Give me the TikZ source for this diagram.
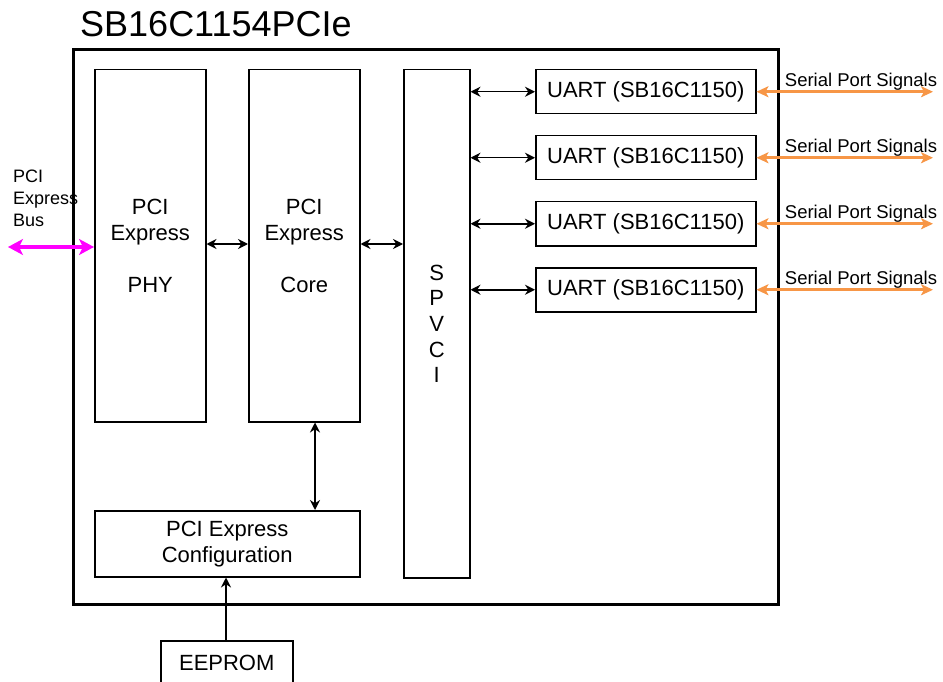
\documentclass[tikz,border=0pt]{standalone}
\usepackage{fontspec}
\setmainfont{Liberation Sans}
\usetikzlibrary{arrows.meta}
\begin{document}
\begin{tikzpicture}[x=1pt,y=-1pt,
  blk/.style={draw,line width=1.5pt,anchor=north west,inner sep=0pt,align=center,font=\fontsize{22}{26}\selectfont},
  conn/.style={line width=1.5pt,{Stealth[length=10pt,width=10pt]}-{Stealth[length=10pt,width=10pt]}},
  pinkarr/.style={line width=4pt,draw={rgb,255:red,255;green,0;blue,255},{Stealth[length=15pt,width=16pt,inset=4pt]}-{Stealth[length=15pt,width=16pt,inset=4pt]}},
  orarr/.style={line width=3pt,draw={rgb,255:red,247;green,150;blue,70},{Stealth[length=12pt,width=11pt,inset=3pt]}-{Stealth[length=12pt,width=11pt,inset=3pt]}},
  lbl/.style={inner sep=0pt,font=\fontsize{18.5}{22.5}\selectfont}]
\useasboundingbox (0,0) rectangle (943,682);
\fill[white] (0,0) rectangle (943,682);
% title
\node[inner sep=0pt,anchor=base west,font=\fontsize{36}{40}\selectfont] (title) at (80,37) {SB16C1154PCIe};
% outer
\node[draw,line width=3pt,anchor=north west,minimum width=705pt,minimum height=555pt,inner sep=0pt] (chip) at (72,48) {};
% blocks
\node[blk,minimum width=111pt,minimum height=352pt] (phy) at (94,69) {PCI\\Express\\[26pt]PHY};
\node[blk,minimum width=111pt,minimum height=352pt] (core) at (248,69) {PCI\\Express\\[26pt]Core};
\node[blk,minimum width=66pt,minimum height=508pt,font=\fontsize{22}{25.7}\selectfont] (spvci) at (403,69) {S\\P\\V\\C\\I};
\node[blk,minimum width=220pt,minimum height=44pt] (u1) at (535,69) {UART (SB16C1150)};
\node[blk,minimum width=220pt,minimum height=44pt] (u2) at (535,135) {UART (SB16C1150)};
\node[blk,minimum width=220pt,minimum height=44pt] (u3) at (535,201) {UART (SB16C1150)};
\node[blk,minimum width=220pt,minimum height=44pt] (u4) at (535,267) {UART (SB16C1150)};
\node[blk,minimum width=265pt,minimum height=66pt] (cfg) at (94,510) {PCI Express\\Configuration};
\node[blk,minimum width=132pt,minimum height=44pt] (ee) at (160,640) {EEPROM};
% internal connectors
\draw[conn] (phy.east |- 0,244) -- (core.west |- 0,244);
\draw[conn] (core.east |- 0,244) -- (spvci.west |- 0,244);
\foreach \u in {u1,u2,u3,u4}{
  \draw[conn] (spvci.east |- \u.west) -- (\u.west);
}
\draw[conn] (core.south -| 315,0) -- (cfg.north -| 315,0);
\draw[line width=1.5pt,-{Stealth[length=10pt,width=10pt]}] (ee.north -| 226,0) -- (cfg.south -| 226,0);
% external
\coordinate (busend) at (8,247);
\draw[pinkarr] (busend) -- (phy.west |- busend);
\node[lbl,anchor=north west,align=left,font=\fontsize{18}{22}\selectfont] (buslbl) at (13,170) {PCI\\Express\\Bus};
\foreach \u/\i in {u1/1,u2/2,u3/3,u4/4}{
  \coordinate (se\i) at (933,0 |- \u.east);
  \draw[orarr] (\u.east) -- (se\i |- \u.east);
  \node[lbl,anchor=base] (sl\i) at ([yshift=5pt]861,0 |- \u.east) {Serial Port Signals};
}
\end{tikzpicture}
\end{document}
